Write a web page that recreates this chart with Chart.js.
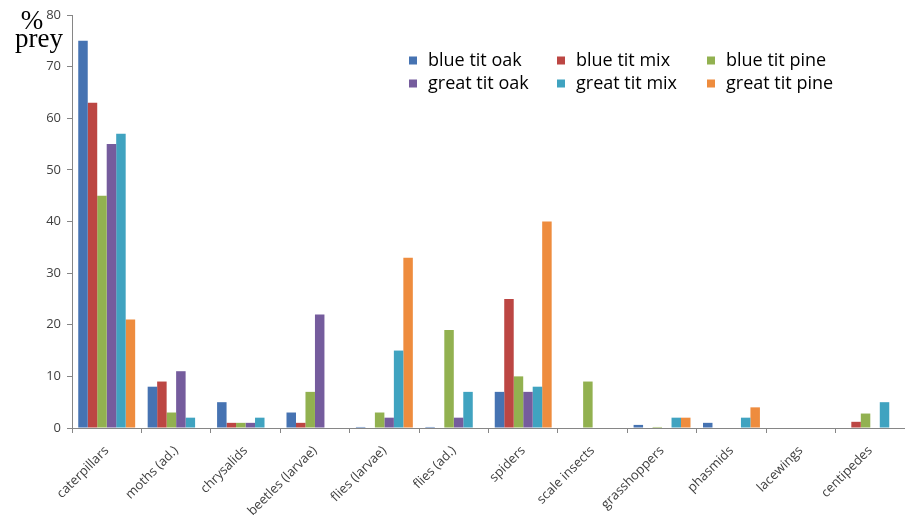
<!DOCTYPE html>
<html>
<head>
<meta charset="utf-8">
<script src="https://cdn.jsdelivr.net/npm/chart.js@4.4.1/dist/chart.umd.min.js"></script>
<style>
  html, body { margin: 0; padding: 0; background: #fff; }
  #wrap { width: 905px; height: 515px; position: relative; }
</style>
</head>
<body>
<div id="wrap"><canvas id="c" width="905" height="515"></canvas></div>
<script>
const categories = ["caterpillars", "moths (ad.)", "chrysalids", "beetles (larvae)", "flies (larvae)", "flies (ad.)", "spiders", "scale insects", "grasshoppers", "phasmids", "lacewings", "centipedes"];
const seriesNames = ["blue tit oak", "blue tit mix", "blue tit pine", "great tit oak", "great tit mix", "great tit pine"];
const blueTitOak   = [75, 8, 5, 3, 0.2, 0.2, 7, 0, 0.6, 1, 0, 0];
const blueTitMix   = [63, 9, 1, 1, 0, 0, 25, 0, 0, 0, 0, 1.2];
const blueTitPine  = [45, 3, 1, 7, 3, 19, 10, 9, 0.2, 0, 0, 2.8];
const greatTitOak  = [55, 11, 1, 22, 2, 2, 7, 0, 0, 0, 0, 0];
const greatTitMix  = [57, 2, 2, 0, 15, 7, 8, 0, 2, 2, 0, 5];
const greatTitPine = [21, 0, 0, 0, 33, 0, 40, 0, 2, 4, 0, 0];
const yTicks = [0, 10, 20, 30, 40, 50, 60, 70, 80];
const yTitleLines = ["%", "prey"];

const colors = ["#4673B2", "#BC4643", "#92B150", "#755C9D", "#40A3C0", "#EE8C3E"];
const allSeries = [blueTitOak, blueTitMix, blueTitPine, greatTitOak, greatTitMix, greatTitPine];

const datasets = allSeries.map((d, i) => ({
  label: seriesNames[i],
  data: d,
  backgroundColor: colors[i],
  borderWidth: 0,
  categoryPercentage: 0.82,
  barPercentage: 1.0
}));

const overlay = {
  id: 'overlay',
  afterDraw(chart) {
    const ctx = chart.ctx;
    ctx.save();
    ctx.fillStyle = '#000';
    ctx.font = '27px "Liberation Serif"';
    ctx.textAlign = 'center';
    ctx.textBaseline = 'alphabetic';
    ctx.fillText(yTitleLines[0], 32, 29);
    ctx.fillText(yTitleLines[1], 39, 47);
    // legend
    const colX = [409, 557, 707];
    const rowY = [60.5, 83.5];
    ctx.font = '18px "Open Sans"';
    ctx.textAlign = 'left';
    ctx.textBaseline = 'middle';
    chart.data.datasets.forEach((ds, i) => {
      const cx = colX[i % 3], cy = rowY[Math.floor(i / 3)];
      ctx.fillStyle = ds.backgroundColor;
      ctx.fillRect(cx, cy - 4, 8, 8);
      ctx.fillStyle = '#000';
      ctx.fillText(ds.label, cx + 19, cy);
    });
    ctx.restore();
  }
};

new Chart(document.getElementById('c'), {
  type: 'bar',
  data: { labels: categories, datasets },
  options: {
    responsive: false,
    animation: false,
    devicePixelRatio: 1,
    layout: { padding: { top: 15, right: 0, left: 0, bottom: 0 } },
    plugins: { legend: { display: false }, tooltip: { enabled: false } },
    scales: {
      x: {
        grid: { drawOnChartArea: false, drawTicks: true, tickLength: 5, color: '#868686', offset: true },
        border: { display: true, color: '#868686', width: 1 },
        ticks: { maxRotation: 45, minRotation: 45, autoSkip: false, color: '#404040', font: { family: 'Open Sans', size: 13 }, padding: 10 },
        afterFit(scale) { scale.height = 87; }
      },
      y: {
        min: 0, max: 80,
        afterBuildTicks(scale) { scale.ticks = yTicks.map(v => ({ value: v })); },
        grid: { drawOnChartArea: false, drawTicks: true, tickLength: 5, color: '#868686' },
        border: { display: true, color: '#868686', width: 1 },
        ticks: { color: '#404040', font: { family: 'Open Sans', size: 13 }, padding: 6 },
        afterFit(scale) { scale.width = 72; }
      }
    }
  },
  plugins: [overlay]
});
</script>
</body>
</html>
